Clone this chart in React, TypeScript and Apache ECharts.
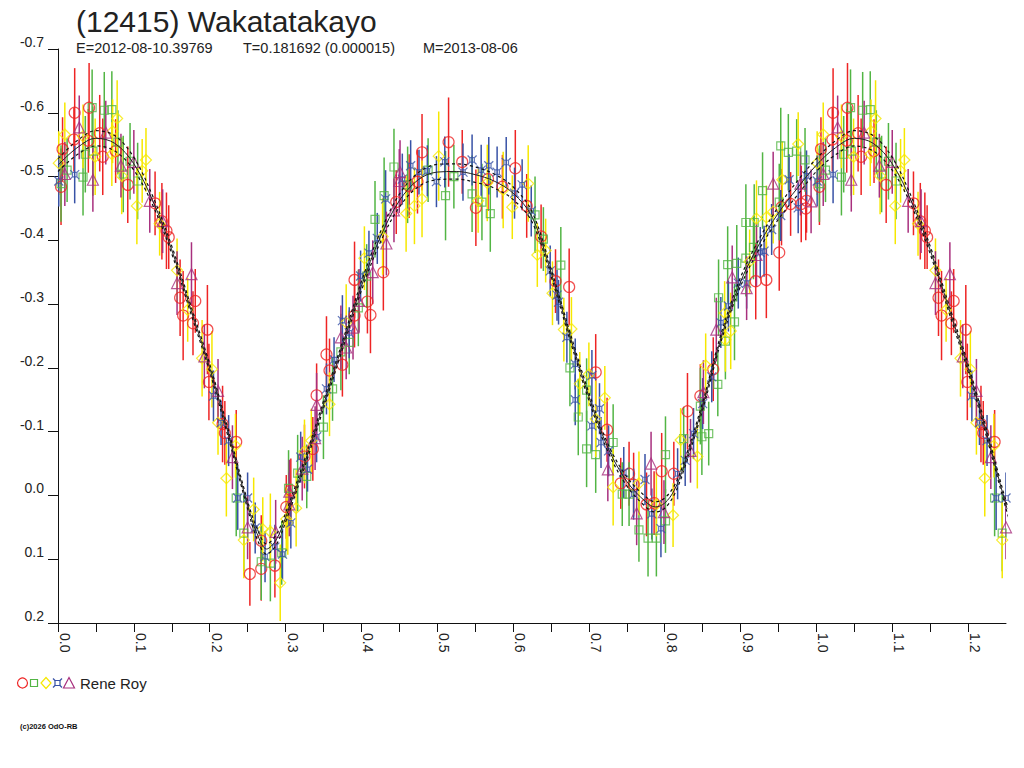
import React, { useEffect, useRef } from "react";
import * as echarts from "echarts";

const TITLE = "(12415) Wakatatakayo";
const SUB_E = "E=2012-08-10.39769";
const SUB_T = "T=0.181692 (0.000015)";
const SUB_M = "M=2013-08-06";
const OBSERVER = "Rene Roy";
const COPYRIGHT = "(c)2026 OdO-RB";

const X_MIN = 0;
const X_MAX = 1.25;
const Y_MIN = -0.7;
const Y_MAX = 0.2;

// [phase, magnitude, error]
const RED = [
  [0.004, -0.484, 0.06], [0.006, -0.543, 0.05], [0.021, -0.558, 0.05], [0.022, -0.6, 0.07],
  [0.04, -0.556, 0.05], [0.041, -0.608, 0.07], [0.055, -0.568, 0.06], [0.059, -0.531, 0.06],
  [0.076, -0.54, 0.05], [0.092, -0.487, 0.06], [0.128, -0.458, 0.05], [0.137, -0.43, 0.06],
  [0.143, -0.415, 0.06], [0.146, -0.405, 0.05], [0.161, -0.31, 0.06], [0.165, -0.282, 0.07],
  [0.178, -0.27, 0.05], [0.181, -0.305, 0.05], [0.197, -0.26, 0.07], [0.199, -0.178, 0.06],
  [0.217, -0.112, 0.06], [0.22, -0.098, 0.05], [0.235, -0.084, 0.05], [0.253, 0.123, 0.05],
  [0.268, 0.071, 0.04], [0.268, 0.115, 0.05], [0.286, 0.11, 0.05], [0.301, 0.018, 0.05],
  [0.307, -0.008, 0.05], [0.325, -0.061, 0.05], [0.336, -0.073, 0.05], [0.341, -0.157, 0.05],
  [0.354, -0.221, 0.06], [0.358, -0.196, 0.05], [0.375, -0.205, 0.05], [0.391, -0.282, 0.05],
  [0.391, -0.338, 0.06], [0.408, -0.304, 0.05], [0.412, -0.283, 0.06], [0.429, -0.35, 0.06],
  [0.446, -0.46, 0.05], [0.463, -0.485, 0.05], [0.474, -0.492, 0.05], [0.48, -0.538, 0.06],
  [0.515, -0.554, 0.07], [0.533, -0.523, 0.05], [0.551, -0.451, 0.06], [0.567, -0.496, 0.05],
  [0.586, -0.484, 0.05], [0.603, -0.513, 0.06], [0.618, -0.454, 0.05], [0.637, -0.406, 0.05],
  [0.656, -0.336, 0.05], [0.674, -0.327, 0.06], [0.709, -0.193, 0.06], [0.724, -0.103, 0.05],
  [0.742, -0.019, 0.04], [0.753, -0.034, 0.05], [0.759, -0.017, 0.05], [0.776, 0.014, 0.05],
  [0.786, 0.012, 0.05], [0.796, -0.038, 0.06], [0.812, -0.034, 0.05], [0.83, -0.132, 0.06],
  [0.847, -0.156, 0.05], [0.864, -0.198, 0.05], [0.92, -0.336, 0.06], [0.934, -0.338, 0.06],
  [0.951, -0.381, 0.06], [0.954, -0.452, 0.06], [0.966, -0.457, 0.05], [0.98, -0.457, 0.06],
  [0.986, -0.45, 0.05], [0.987, -0.462, 0.05],
];

const GREEN = [
  [0.004, -0.489, 0.06], [0.012, -0.51, 0.05], [0.033, -0.499, 0.06], [0.036, -0.535, 0.06],
  [0.045, -0.608, 0.06], [0.046, -0.54, 0.07], [0.061, -0.604, 0.06], [0.071, -0.605, 0.06],
  [0.079, -0.554, 0.05], [0.086, -0.504, 0.06], [0.095, -0.524, 0.06], [0.105, -0.493, 0.06],
  [0.235, 0.004, 0.06], [0.245, 0.059, 0.06], [0.268, 0.104, 0.06], [0.28, 0.106, 0.06],
  [0.295, 0.09, 0.05], [0.304, -0.011, 0.06], [0.316, -0.035, 0.06], [0.328, -0.03, 0.05],
  [0.35, -0.107, 0.05], [0.362, -0.167, 0.05], [0.373, -0.225, 0.06], [0.384, -0.24, 0.05],
  [0.396, -0.294, 0.06], [0.407, -0.344, 0.05], [0.418, -0.433, 0.06], [0.43, -0.47, 0.06],
  [0.443, -0.515, 0.06], [0.461, -0.487, 0.06], [0.488, -0.51, 0.05], [0.511, -0.47, 0.07],
  [0.522, -0.5, 0.05], [0.546, -0.473, 0.06], [0.559, -0.46, 0.06], [0.57, -0.442, 0.06],
  [0.629, -0.44, 0.06], [0.64, -0.402, 0.05], [0.663, -0.361, 0.06], [0.675, -0.2, 0.06],
  [0.686, -0.123, 0.06], [0.697, -0.165, 0.05], [0.697, -0.073, 0.06], [0.709, -0.064, 0.06],
  [0.732, -0.083, 0.06], [0.744, -0.002, 0.05], [0.753, -0.002, 0.05], [0.766, 0.054, 0.05],
  [0.778, 0.067, 0.06], [0.789, 0.067, 0.06], [0.801, 0.04, 0.05], [0.801, -0.064, 0.06],
  [0.825, -0.089, 0.05], [0.847, -0.14, 0.06], [0.849, -0.092, 0.06], [0.858, -0.097, 0.05],
  [0.87, -0.174, 0.05], [0.871, -0.31, 0.06], [0.88, -0.242, 0.06], [0.883, -0.362, 0.06],
  [0.892, -0.272, 0.06], [0.895, -0.364, 0.06], [0.907, -0.372, 0.06], [0.907, -0.428, 0.06],
  [0.917, -0.389, 0.05], [0.918, -0.428, 0.06], [0.929, -0.478, 0.06], [0.951, -0.46, 0.06],
  [0.953, -0.548, 0.06], [0.963, -0.538, 0.06], [0.974, -0.54, 0.05], [0.985, -0.526, 0.05],
];

const YELLOW = [
  [0.001, -0.521, 0.05], [0.009, -0.566, 0.05], [0.033, -0.563, 0.05], [0.049, -0.531, 0.06],
  [0.071, -0.535, 0.05], [0.072, -0.571, 0.05], [0.078, -0.591, 0.06], [0.084, -0.501, 0.06],
  [0.104, -0.454, 0.06], [0.111, -0.509, 0.05], [0.116, -0.526, 0.05], [0.134, -0.426, 0.05],
  [0.157, -0.353, 0.05], [0.171, -0.291, 0.05], [0.19, -0.215, 0.06], [0.203, -0.198, 0.06],
  [0.211, -0.114, 0.05], [0.222, -0.027, 0.06], [0.234, -0.078, 0.05], [0.245, 0.07, 0.06],
  [0.258, 0.022, 0.05], [0.27, 0.053, 0.05], [0.28, 0.057, 0.06], [0.293, 0.137, 0.06],
  [0.301, 0.037, 0.05], [0.303, 0.043, 0.05], [0.314, 0.02, 0.06], [0.325, -0.069, 0.05],
  [0.334, -0.086, 0.05], [0.358, -0.143, 0.05], [0.38, -0.271, 0.06], [0.404, -0.372, 0.05],
  [0.428, -0.406, 0.06], [0.459, -0.442, 0.06], [0.47, -0.454, 0.06], [0.48, -0.465, 0.06],
  [0.502, -0.532, 0.07], [0.554, -0.462, 0.05], [0.566, -0.49, 0.06], [0.587, -0.479, 0.06],
  [0.599, -0.452, 0.05], [0.62, -0.489, 0.06], [0.632, -0.377, 0.05], [0.643, -0.384, 0.05],
  [0.652, -0.317, 0.05], [0.667, -0.26, 0.05], [0.677, -0.261, 0.05], [0.688, -0.175, 0.05],
  [0.7, -0.19, 0.05], [0.709, -0.12, 0.06], [0.721, -0.153, 0.05], [0.732, -0.013, 0.06],
  [0.766, -0.019, 0.05], [0.789, 0.014, 0.05], [0.811, 0.031, 0.05], [0.821, -0.087, 0.05],
  [0.843, -0.061, 0.05], [0.854, -0.204, 0.05], [0.879, -0.286, 0.05], [0.88, -0.244, 0.05],
  [0.887, -0.258, 0.06], [0.912, -0.367, 0.05], [0.921, -0.434, 0.06], [0.934, -0.436, 0.05],
  [0.943, -0.445, 0.05], [0.955, -0.495, 0.06], [0.976, -0.551, 0.05],
];

const BLUE = [
  [0.001, -0.493, 0.04], [0.022, -0.503, 0.045], [0.205, -0.156, 0.04], [0.215, -0.114, 0.035],
  [0.225, -0.086, 0.04], [0.237, 0.004, 0.05], [0.25, 0.004, 0.04], [0.26, 0.051, 0.04],
  [0.273, 0.096, 0.04], [0.286, 0.081, 0.035], [0.296, 0.092, 0.04], [0.307, 0.043, 0.04],
  [0.32, -0.06, 0.04], [0.329, -0.041, 0.035], [0.341, -0.092, 0.04], [0.354, -0.167, 0.04],
  [0.364, -0.213, 0.035], [0.375, -0.274, 0.04], [0.384, -0.255, 0.04], [0.399, -0.344, 0.04],
  [0.41, -0.38, 0.035], [0.421, -0.403, 0.04], [0.432, -0.465, 0.045], [0.454, -0.496, 0.04],
  [0.465, -0.517, 0.04], [0.476, -0.507, 0.035], [0.487, -0.509, 0.04], [0.499, -0.492, 0.04],
  [0.51, -0.523, 0.04], [0.534, -0.507, 0.045], [0.546, -0.526, 0.04], [0.558, -0.51, 0.04],
  [0.568, -0.517, 0.045], [0.579, -0.507, 0.04], [0.591, -0.522, 0.04], [0.602, -0.474, 0.04],
  [0.612, -0.487, 0.04], [0.624, -0.446, 0.04], [0.649, -0.352, 0.04], [0.658, -0.314, 0.04],
  [0.66, -0.303, 0.035], [0.671, -0.248, 0.04], [0.682, -0.206, 0.04], [0.682, -0.15, 0.04],
  [0.704, -0.188, 0.04], [0.704, -0.109, 0.04], [0.714, -0.136, 0.04], [0.716, -0.083, 0.04],
  [0.726, -0.07, 0.04], [0.746, -0.036, 0.04], [0.759, -0.002, 0.04], [0.774, -0.025, 0.04],
  [0.783, 0.029, 0.04], [0.795, 0.052, 0.045], [0.817, -0.034, 0.04], [0.827, -0.055, 0.04],
  [0.838, -0.097, 0.04], [0.85, -0.144, 0.04], [0.862, -0.186, 0.04], [0.874, -0.271, 0.04],
  [0.884, -0.297, 0.04], [0.897, -0.333, 0.04], [0.908, -0.333, 0.04], [0.926, -0.381, 0.04],
  [0.931, -0.383, 0.04], [0.941, -0.417, 0.04], [0.953, -0.439, 0.04], [0.964, -0.495, 0.04],
  [0.976, -0.451, 0.04], [0.987, -0.501, 0.04],
];

const PURPLE = [
  [0.009, -0.504, 0.05], [0.028, -0.577, 0.05], [0.046, -0.495, 0.05], [0.063, -0.569, 0.05],
  [0.083, -0.517, 0.05], [0.1, -0.523, 0.05], [0.121, -0.462, 0.05], [0.138, -0.43, 0.05],
  [0.157, -0.333, 0.05], [0.176, -0.347, 0.05], [0.193, -0.218, 0.05], [0.211, -0.164, 0.05],
  [0.23, -0.06, 0.05], [0.25, 0.05, 0.05], [0.287, 0.057, 0.05], [0.305, 0.014, 0.05],
  [0.305, -0.006, 0.05], [0.322, -0.042, 0.05], [0.339, -0.09, 0.05], [0.341, -0.142, 0.05],
  [0.373, -0.248, 0.05], [0.38, -0.232, 0.05], [0.389, -0.263, 0.05], [0.397, -0.305, 0.05],
  [0.415, -0.35, 0.05], [0.433, -0.395, 0.05], [0.443, -0.447, 0.05], [0.45, -0.493, 0.05],
  [0.451, -0.507, 0.05], [0.725, -0.041, 0.05], [0.763, 0.028, 0.05], [0.782, -0.05, 0.05],
  [0.799, 0.026, 0.05], [0.834, -0.07, 0.05], [0.851, -0.162, 0.05], [0.868, -0.26, 0.05],
  [0.889, -0.342, 0.05], [0.908, -0.325, 0.05], [0.921, -0.377, 0.05], [0.943, -0.489, 0.05],
  [0.979, -0.489, 0.05], [0.993, -0.461, 0.05],
];

// Fourier fit curve and its error envelope
const FIT_PHASE = [
  0, 0.025, 0.05, 0.075, 0.1, 0.125, 0.15, 0.175, 0.2, 0.225, 0.25, 0.2625, 0.275, 0.2875, 0.3,
  0.325, 0.35, 0.375, 0.4, 0.425, 0.45, 0.475, 0.5, 0.525, 0.55, 0.575, 0.6, 0.625, 0.65, 0.675,
  0.7, 0.725, 0.75, 0.775, 0.7875, 0.8, 0.8125, 0.825, 0.85, 0.875, 0.9, 0.925, 0.95, 0.975,
];
const FIT_MID = [
  -0.518, -0.545, -0.56, -0.552, -0.52, -0.462, -0.385, -0.292, -0.2, -0.095, 0.015, 0.06, 0.084,
  0.07, 0.035, -0.05, -0.142, -0.235, -0.328, -0.405, -0.462, -0.495, -0.507, -0.508, -0.503,
  -0.493, -0.474, -0.437, -0.35, -0.25, -0.155, -0.075, -0.022, 0.01, 0.018, 0.012, -0.008,
  -0.045, -0.14, -0.25, -0.335, -0.395, -0.443, -0.482,
];
const FIT_UPPER = [
  -0.528, -0.556, -0.572, -0.564, -0.53, -0.469, -0.391, -0.298, -0.206, -0.101, 0.009, 0.052,
  0.076, 0.062, 0.028, -0.056, -0.148, -0.241, -0.335, -0.413, -0.472, -0.506, -0.519, -0.52,
  -0.515, -0.504, -0.484, -0.445, -0.356, -0.256, -0.161, -0.081, -0.029, 0.002, 0.01, 0.004,
  -0.015, -0.051, -0.146, -0.256, -0.342, -0.403, -0.453, -0.493,
];
const FIT_LOWER = [
  -0.508, -0.534, -0.548, -0.54, -0.51, -0.455, -0.379, -0.286, -0.194, -0.089, 0.021, 0.068,
  0.092, 0.078, 0.042, -0.044, -0.136, -0.229, -0.321, -0.397, -0.452, -0.484, -0.495, -0.496,
  -0.491, -0.482, -0.464, -0.429, -0.344, -0.244, -0.149, -0.069, -0.015, 0.018, 0.026, 0.02,
  -0.001, -0.039, -0.134, -0.244, -0.328, -0.387, -0.433, -0.471,
];

const COLORS = {
  red: "#ee2424",
  green: "#52b544",
  yellow: "#f6e800",
  blue: "#3852a6",
  purple: "#a8307e",
};

const FONT = '"Liberation Sans", Arial, sans-serif';
const BLUE_SYMBOL =
  "path://M2.5,2.5 L7.5,2.5 L7.5,7.5 L2.5,7.5 Z M0,0 L2.5,2.5 M10,0 L7.5,2.5 M10,10 L7.5,7.5 M0,10 L2.5,7.5";

// phased light curve: repeat the first quarter of the cycle after phase 1
function fold(pts: number[][]): number[][] {
  const extra = pts.filter((p) => p[0] <= 0.26).map((p) => [p[0] + 1, p[1], p[2]]);
  return pts.concat(extra);
}

function foldCurve(values: number[]): number[][] {
  const base = FIT_PHASE.map((p, i) => [p, values[i]]);
  const extra = FIT_PHASE.map((p, i) => [p + 1, values[i]]).filter((p) => p[0] <= 1.27);
  return base.concat(extra);
}

function observerSeries(pts: number[][], color: string, symbol: string, size: number) {
  const data = fold(pts);
  return [
    {
      type: "custom",
      data,
      encode: { x: 0, y: 1 },
      clip: true,
      silent: true,
      z: 2,
      renderItem: (_params: any, api: any) => {
        const x = api.value(0);
        const y = api.value(1);
        const e = api.value(2);
        const a = api.coord([x, y - e]);
        const b = api.coord([x, y + e]);
        return {
          type: "line",
          shape: { x1: a[0], y1: a[1], x2: b[0], y2: b[1] },
          style: { stroke: color, lineWidth: 1.5 },
        };
      },
    },
    {
      type: "scatter",
      data: data.map((p) => [p[0], p[1]]),
      symbol,
      symbolSize: size,
      silent: true,
      z: 3,
      itemStyle: { color: "rgba(0,0,0,0)", borderColor: color, borderWidth: 1.2 },
    },
  ];
}

export default function App() {
  const ref = useRef<HTMLDivElement>(null);

  useEffect(() => {
    if (!ref.current) return;
    const chart = echarts.init(ref.current, null, { renderer: "svg" });

    const fmt1 = (v: number) => (Math.abs(v) < 1e-9 ? 0 : v).toFixed(1);

    const option: any = {
      animation: false,
      backgroundColor: "#ffffff",
      textStyle: { fontFamily: FONT },
      grid: { left: 58, right: 18, top: 49, bottom: 145, containLabel: false },
      xAxis: {
        type: "value",
        min: X_MIN,
        max: X_MAX,
        interval: 0.05,
        splitLine: { show: false },
        axisLine: { show: true, onZero: false, lineStyle: { color: "#111", width: 1 } },
        axisTick: { show: true, inside: false, length: 9, lineStyle: { color: "#111", width: 1 } },
        axisLabel: {
          rotate: -90,
          margin: 10,
          verticalAlign: "bottom",
          fontSize: 14,
          color: "#222",
          fontFamily: FONT,
          showMaxLabel: false,
          formatter: (v: number) => {
            const h = Math.round(v * 100);
            return h % 10 === 0 ? fmt1(v) : "";
          },
        },
      },
      yAxis: {
        type: "value",
        inverse: true,
        min: Y_MIN,
        max: Y_MAX,
        interval: 0.1,
        splitLine: { show: false },
        axisLine: { show: true, onZero: false, lineStyle: { color: "#111", width: 1 } },
        axisTick: { show: true, inside: false, length: 10, lineStyle: { color: "#111", width: 1 } },
        axisLabel: {
          margin: 14,
          verticalAlign: "bottom",
          fontSize: 14,
          color: "#222",
          fontFamily: FONT,
          formatter: fmt1,
        },
      },
      series: [
        ...observerSeries(RED, COLORS.red, "circle", 11),
        ...observerSeries(GREEN, COLORS.green, "rect", 8),
        ...observerSeries(YELLOW, COLORS.yellow, "diamond", 11),
        ...observerSeries(BLUE, COLORS.blue, BLUE_SYMBOL, 9),
        ...observerSeries(PURPLE, COLORS.purple, "triangle", 11),
        {
          type: "line",
          data: foldCurve(FIT_UPPER),
          showSymbol: false,
          smooth: 0.35,
          silent: true,
          z: 5,
          lineStyle: { color: "#111", width: 1.2, type: [3, 3] },
        },
        {
          type: "line",
          data: foldCurve(FIT_LOWER),
          showSymbol: false,
          smooth: 0.35,
          silent: true,
          z: 5,
          lineStyle: { color: "#111", width: 1.2, type: [3, 3] },
        },
        {
          type: "line",
          data: foldCurve(FIT_MID),
          showSymbol: false,
          smooth: 0.35,
          silent: true,
          z: 5,
          lineStyle: { color: "#222", width: 1 },
        },
      ],
      graphic: [
        {
          type: "text",
          x: 76,
          y: 21,
          style: { text: TITLE, font: `30px ${FONT}`, fill: "#222", align: "left", verticalAlign: "middle" },
        },
        {
          type: "text",
          x: 76,
          y: 48,
          style: { text: SUB_E, font: `14.5px ${FONT}`, fill: "#222", align: "left", verticalAlign: "middle" },
        },
        {
          type: "text",
          x: 243,
          y: 48,
          style: { text: SUB_T, font: `14.5px ${FONT}`, fill: "#222", align: "left", verticalAlign: "middle" },
        },
        {
          type: "text",
          x: 423,
          y: 48,
          style: { text: SUB_M, font: `14.5px ${FONT}`, fill: "#222", align: "left", verticalAlign: "middle" },
        },
        // legend markers
        {
          type: "circle",
          shape: { cx: 22.5, cy: 683, r: 5 },
          style: { fill: "none", stroke: COLORS.red, lineWidth: 1.2 },
        },
        {
          type: "rect",
          shape: { x: 30.5, y: 679.5, width: 7, height: 7 },
          style: { fill: "none", stroke: COLORS.green, lineWidth: 1.2 },
        },
        {
          type: "polygon",
          shape: { points: [[46, 677.5], [51, 683], [46, 688.5], [41, 683]] },
          style: { fill: "none", stroke: COLORS.yellow, lineWidth: 1.2 },
        },
        {
          type: "rect",
          shape: { x: 55, y: 680.5, width: 5, height: 5 },
          style: { fill: "none", stroke: COLORS.blue, lineWidth: 1.2 },
        },
        {
          type: "polyline",
          shape: { points: [[53, 678.5], [55, 680.5]] },
          style: { stroke: COLORS.blue, lineWidth: 1.2 },
        },
        {
          type: "polyline",
          shape: { points: [[62, 678.5], [60, 680.5]] },
          style: { stroke: COLORS.blue, lineWidth: 1.2 },
        },
        {
          type: "polyline",
          shape: { points: [[53, 687.5], [55, 685.5]] },
          style: { stroke: COLORS.blue, lineWidth: 1.2 },
        },
        {
          type: "polyline",
          shape: { points: [[62, 687.5], [60, 685.5]] },
          style: { stroke: COLORS.blue, lineWidth: 1.2 },
        },
        {
          type: "polygon",
          shape: { points: [[69, 677.5], [74.5, 688], [63.5, 688]] },
          style: { fill: "none", stroke: COLORS.purple, lineWidth: 1.2 },
        },
        {
          type: "text",
          x: 80,
          y: 683,
          style: { text: OBSERVER, font: `15px ${FONT}`, fill: "#222", align: "left", verticalAlign: "middle" },
        },
        {
          type: "text",
          x: 20,
          y: 726,
          style: { text: COPYRIGHT, font: `bold 7.5px ${FONT}`, fill: "#111", align: "left", verticalAlign: "middle" },
        },
      ],
    };

    chart.setOption(option);
    return () => chart.dispose();
  }, []);

  return (
    <div
      ref={ref}
      style={{ position: "absolute", left: 0, top: 0, width: 1024, height: 768, background: "#ffffff" }}
    />
  );
}
